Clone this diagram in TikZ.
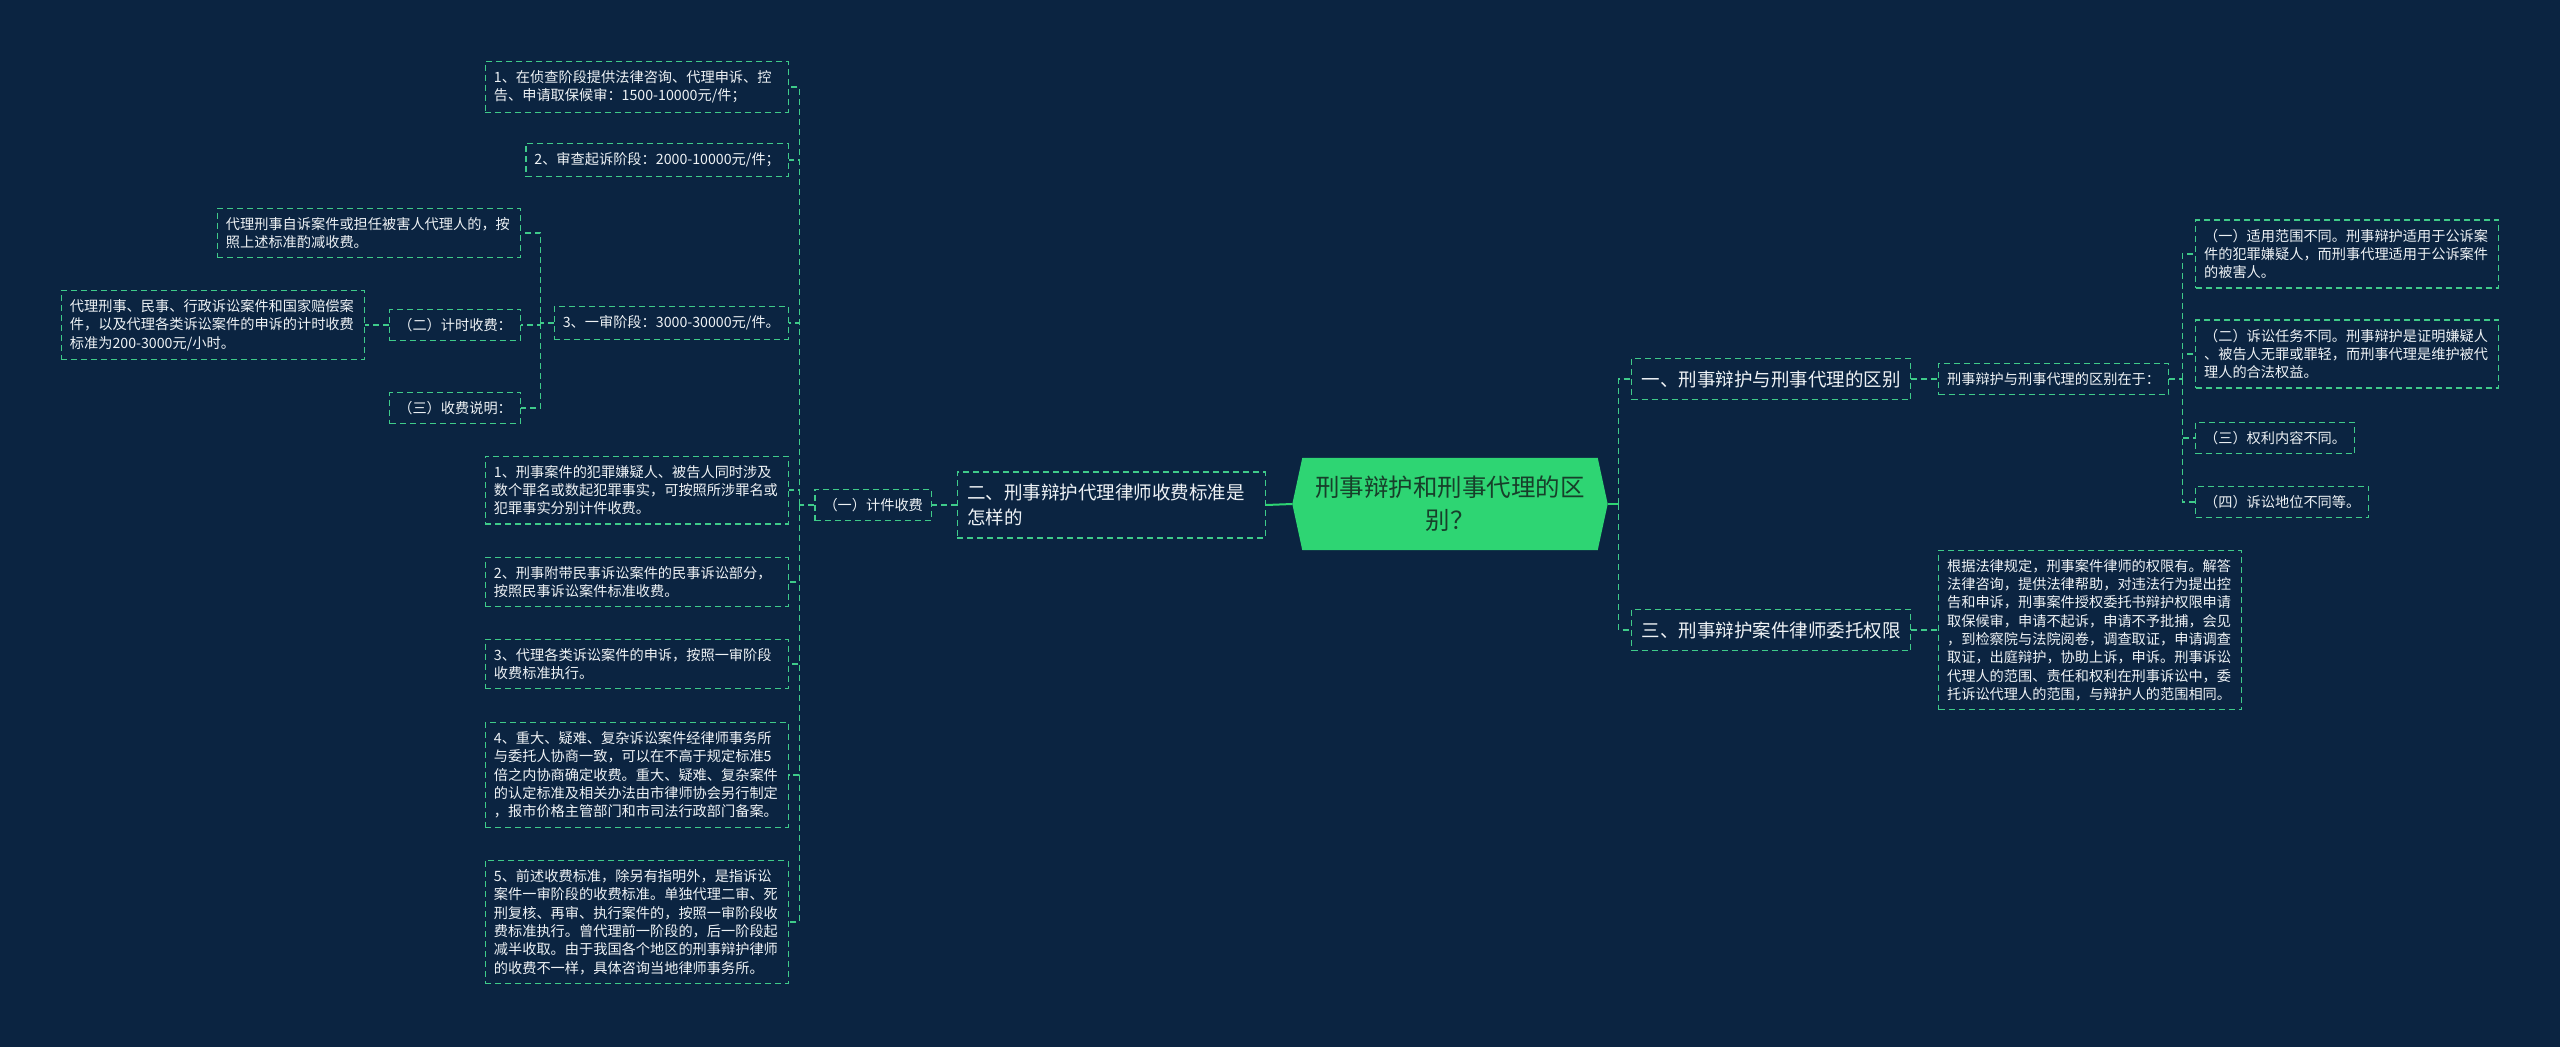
\documentclass[tikz,border=0pt]{standalone}
\usepackage{fontspec}
\setmainfont{Noto Sans CJK SC}
\usepackage{xcolor}
\usepackage{tikz}
\usetikzlibrary{backgrounds}
\definecolor{fondo}{HTML}{0B2441}
\definecolor{verde}{HTML}{3FCB8A}
\definecolor{verderaiz}{HTML}{2ED573}
\definecolor{textoraiz}{HTML}{173F2A}
\definecolor{texto}{HTML}{EEF2F5}

\begin{document}
\begin{tikzpicture}[x=1pt, y=-1pt]
    % Definición de estilos
    \tikzstyle{caja}=[draw=verde, dash pattern=on 6pt off 4pt, line width=1.2pt, text=texto, align=left, inner xsep=8.5pt, inner ysep=9pt, font=\fontsize{14.2}{18.3}\selectfont]
    \tikzstyle{cajalarga}=[caja, text width=286pt]
    \tikzstyle{rama}=[caja, inner xsep=10pt, inner ysep=12pt, font=\fontsize{18.5}{25}\selectfont]
    \tikzstyle{enlace}=[draw=verde, dash pattern=on 6pt off 4pt, line width=1.2pt]
    \tikzstyle{solido}=[draw=verderaiz, line width=2pt]
    % Fondo oscuro del mapa
    \begin{scope}[on background layer]
        \fill[fondo] (0,0) rectangle (2560,1047);
    \end{scope}
    \useasboundingbox (0,0) rectangle (2560,1047);
    % Nodo central (hexágono verde)
    \node[font=\fontsize{24.5}{33}\selectfont, text=textoraiz, align=center, minimum width=315pt, minimum height=92pt, inner sep=0pt] (raiz) at (1450,504) {刑事辩护和刑事代理的区\\别？};
    \begin{scope}[on background layer]
        \fill[verderaiz] (raiz.west) -- ([xshift=10pt]raiz.north west) -- ([xshift=-10pt]raiz.north east) -- (raiz.east) -- ([xshift=-10pt]raiz.south east) -- ([xshift=10pt]raiz.south west) -- cycle;
    \end{scope}
    % Rama izquierda: honorarios
    \node[rama, text width=288pt, anchor=east] (cobro) at (1266,505) {二、刑事辩护代理律师收费标准是\\怎样的};
    \node[caja, anchor=east] (pieza) at (932,505) {（一）计件收费};
    \node[cajalarga, anchor=east] (fase1) at (789,87) {1、在侦查阶段提供法律咨询、代理申诉、控\\告、申请取保候审：1500-10000元/件；};
    \node[caja, anchor=east] (fase2) at (789,160) {2、审查起诉阶段：2000-10000元/件；};
    \node[caja, anchor=east] (fase3) at (789,323) {3、一审阶段：3000-30000元/件。};
    \node[cajalarga, anchor=east] (regla1) at (789,490) {1、刑事案件的犯罪嫌疑人、被告人同时涉及\\数个罪名或数起犯罪事实，可按照所涉罪名或\\犯罪事实分别计件收费。};
    \node[cajalarga, anchor=east] (regla2) at (789,582) {2、刑事附带民事诉讼案件的民事诉讼部分，\\按照民事诉讼案件标准收费。};
    \node[cajalarga, anchor=east] (regla3) at (789,664) {3、代理各类诉讼案件的申诉，按照一审阶段\\收费标准执行。};
    \node[cajalarga, anchor=east] (regla4) at (789,775) {4、重大、疑难、复杂诉讼案件经律师事务所\\与委托人协商一致，可以在不高于规定标准5\\倍之内协商确定收费。重大、疑难、复杂案件\\的认定标准及相关办法由市律师协会另行制定\\，报市价格主管部门和市司法行政部门备案。};
    \node[cajalarga, anchor=east] (regla5) at (789,922) {5、前述收费标准，除另有指明外，是指诉讼\\案件一审阶段的收费标准。单独代理二审、死\\刑复核、再审、执行案件的，按照一审阶段收\\费标准执行。曾代理前一阶段的，后一阶段起\\减半收取。由于我国各个地区的刑事辩护律师\\的收费不一样，具体咨询当地律师事务所。};
    % Hijos de la primera instancia
    \node[cajalarga, anchor=east] (victima) at (521,233) {代理刑事自诉案件或担任被害人代理人的，按\\照上述标准酌减收费。};
    \node[caja, anchor=east] (hora) at (521,325) {（二）计时收费：};
    \node[caja, anchor=east] (nota) at (521,408) {（三）收费说明：};
    \node[cajalarga, anchor=east] (tarifa) at (365,325) {代理刑事、民事、行政诉讼案件和国家赔偿案\\件，以及代理各类诉讼案件的申诉的计时收费\\标准为200-3000元/小时。};
    % Rama derecha: diferencias y facultades
    \node[rama, anchor=west] (dif) at (1631,379) {一、刑事辩护与刑事代理的区别};
    \node[rama, anchor=west] (poder) at (1631,630) {三、刑事辩护案件律师委托权限};
    \node[caja, anchor=west] (difen) at (1938,379) {刑事辩护与刑事代理的区别在于：};
    \node[cajalarga, anchor=west] (difa) at (2195,254) {（一）适用范围不同。刑事辩护适用于公诉案\\件的犯罪嫌疑人，而刑事代理适用于公诉案件\\的被害人。};
    \node[cajalarga, anchor=west] (difb) at (2195,354) {（二）诉讼任务不同。刑事辩护是证明嫌疑人\\、被告人无罪或罪轻，而刑事代理是维护被代\\理人的合法权益。};
    \node[caja, anchor=west] (difc) at (2195,438) {（三）权利内容不同。};
    \node[caja, anchor=west] (difd) at (2195,502) {（四）诉讼地位不同等。};
    \node[cajalarga, anchor=west] (ley) at (1938,630) {根据法律规定，刑事案件律师的权限有。解答\\法律咨询，提供法律帮助，对违法行为提出控\\告和申诉，刑事案件授权委托书辩护权限申请\\取保候审，申请不起诉，申请不予批捕，会见\\，到检察院与法院阅卷，调查取证，申请调查\\取证，出庭辩护，协助上诉，申诉。刑事诉讼\\代理人的范围、责任和权利在刑事诉讼中，委\\托诉讼代理人的范围，与辩护人的范围相同。};
    % Conectores desde el centro
    \draw[solido] (raiz.west) -- (cobro.east);
    \draw[solido] (raiz.east) -- ++(11,0) coordinate (tronco);
    \draw[enlace] (tronco) |- (dif.west);
    \draw[enlace] (tronco) |- (poder.west);
    % Conectores de la rama izquierda
    \draw[enlace] (cobro.west) -- (pieza.east);
    \draw[enlace] (pieza.west) -- ++(-15,0) coordinate (eje);
    \draw[enlace] (eje) |- (fase1.east);
    \draw[enlace] (eje) |- (fase2.east);
    \draw[enlace] (eje) |- (fase3.east);
    \draw[enlace] (eje) |- (regla1.east);
    \draw[enlace] (eje) |- (regla2.east);
    \draw[enlace] (eje) |- (regla3.east);
    \draw[enlace] (eje) |- (regla4.east);
    \draw[enlace] (eje) |- (regla5.east);
    \draw[enlace] (fase3.west) -- ++(-13,0) coordinate (eje3);
    \draw[enlace] (eje3) |- (victima.east);
    \draw[enlace] (eje3) |- (hora.east);
    \draw[enlace] (eje3) |- (nota.east);
    \draw[enlace] (hora.west) -- (tarifa.east);
    % Conectores de la rama derecha
    \draw[enlace] (dif.east) -- (difen.west);
    \draw[enlace] (difen.east) -- ++(13,0) coordinate (ejed);
    \draw[enlace] (ejed) |- (difa.west);
    \draw[enlace] (ejed) |- (difb.west);
    \draw[enlace] (ejed) |- (difc.west);
    \draw[enlace] (ejed) |- (difd.west);
    \draw[enlace] (poder.east) -- (ley.west);
\end{tikzpicture}
\end{document}
